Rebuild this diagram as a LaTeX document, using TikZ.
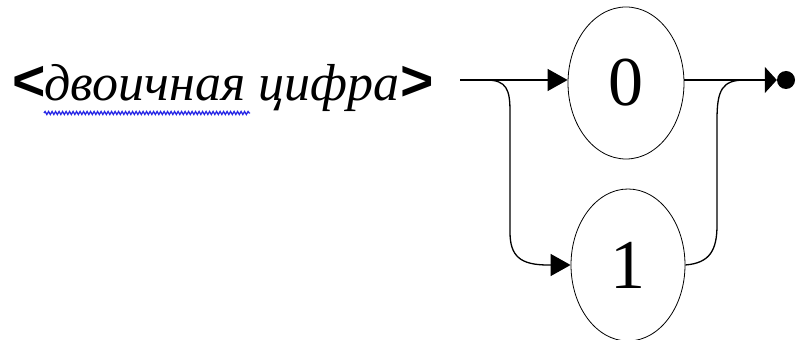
\documentclass[tikz,border=0pt]{standalone}
\usepackage{fontspec}
\setmainfont{Liberation Serif}
\newfontfamily\bracketfont{Liberation Sans}
\usetikzlibrary{arrows.meta,shapes.geometric,decorations.pathmorphing}
\definecolor{spellblue}{RGB}{40,40,230}

\tikzset{
    digit/.style={draw, ellipse, line width=0.8pt, inner sep=0pt,
        minimum width=116pt, minimum height=152pt,
        font=\fontsize{70}{0}\selectfont},
    conn/.style={line width=1.3pt},
    bigtip/.style={-{Triangle[length=20pt,width=22pt]}}
}
\newcommand{\angbr}[1]{{\bracketfont\bfseries\fontsize{57}{0}\selectfont#1}}

\begin{document}
\begin{tikzpicture}[x=1pt,y=1pt]

    % 1. размер картинки
    \useasboundingbox (0,0) rectangle (798,340);

    % 2. имя понятия
    \node (lbl) at (11,239) [anchor=base west, inner sep=0pt,
        font=\fontsize{52}{0}\selectfont\itshape]
        {\angbr{<}двоичная цифра\angbr{>}};
    % волнистое подчёркивание
    \draw[spellblue, line width=1.3pt, decorate,
        decoration={snake, amplitude=1.5pt, segment length=3.5pt}]
        (44,227) -- (250,227);

    % 3. два эллипса с цифрами
    \node[digit] (zero) at (626,257) {0};
    \node[digit, minimum width=114pt] (one) at (628,75) {1};

    % 4. точки ветвления
    \coordinate (in) at (460,260);
    \coordinate (split) at (486,260);
    \coordinate (join) at (745,260);
    \node (fin) at (786,260) [circle, fill=black, inner sep=0pt, minimum size=18pt] {};

    % 5. линии
    \draw[conn, bigtip] (in) -- (zero.west |- in);
    \draw[conn, bigtip] (split) .. controls (507,260) and (510,250) .. (510,228)
        -- (510,108) .. controls (510,84) and (520,75) .. (548,75) -- (one.west);
    \draw[conn] (one.east) .. controls (710,77) and (717,90) .. (717,115)
        -- (717,220) .. controls (717,250) and (722,260) .. (join);
    \draw[conn, -{Triangle[length=12pt,width=26pt]}] (zero.east |- in) -- (fin.west);

\end{tikzpicture}
\end{document}
